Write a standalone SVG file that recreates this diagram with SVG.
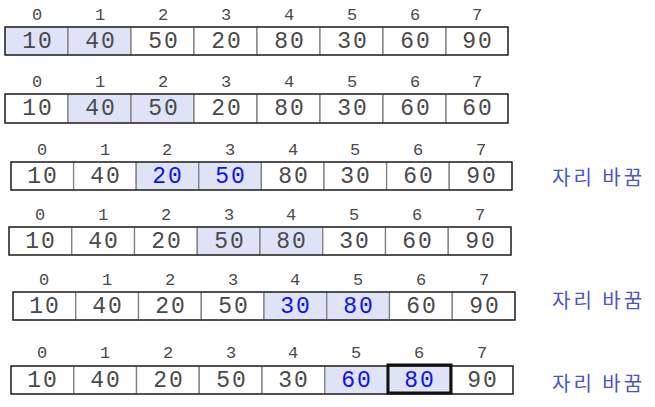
<svg xmlns="http://www.w3.org/2000/svg" width="655" height="407" viewBox="0 0 655 407">
<style>
.c{fill:#fff;stroke:#808080;stroke-width:1.3}
.h{fill:#dfe3f7;stroke:#808080;stroke-width:1.3}
.o{fill:none;stroke:#222;stroke-width:1.3}
.t{stroke:#111;stroke-width:3;fill:none}
.v{font-family:"Liberation Mono","DejaVu Sans Mono",monospace;font-size:23px;letter-spacing:2px;fill:#4a4a4a;text-anchor:middle;dominant-baseline:central}
.b{fill:#1010ee}
.i{font-family:"Liberation Mono","DejaVu Sans Mono",monospace;font-size:17px;fill:#4a4a4a;text-anchor:middle;dominant-baseline:central}
.k{font-family:"Noto Sans CJK KR",sans-serif;font-size:20px;letter-spacing:3px;fill:#4a55c8;dominant-baseline:central}
</style>
<g id="row1">
<rect class="h" x="5" y="27" width="63" height="28"/><rect class="h" x="68" y="27" width="63" height="28"/><rect class="c" x="131" y="27" width="63" height="28"/><rect class="c" x="194" y="27" width="63" height="28"/><rect class="c" x="257" y="27" width="63" height="28"/><rect class="c" x="320" y="27" width="63" height="28"/><rect class="c" x="383" y="27" width="63" height="28"/><rect class="c" x="446" y="27" width="62" height="28"/>
<rect class="o" x="5" y="27" width="503" height="28"/>
<g class="i"><text x="37" y="15">0</text><text x="100" y="15">1</text><text x="163" y="15">2</text><text x="226" y="15">3</text><text x="289" y="15">4</text><text x="352" y="15">5</text><text x="415" y="15">6</text><text x="477" y="15">7</text></g>
<g class="v"><text x="38" y="42">10</text><text x="101" y="42">40</text><text x="164" y="42">50</text><text x="227" y="42">20</text><text x="290" y="42">80</text><text x="353" y="42">30</text><text x="416" y="42">60</text><text x="478" y="42">90</text></g>
</g>
<g id="row2">
<rect class="c" x="5" y="94" width="63" height="29"/><rect class="h" x="68" y="94" width="63" height="29"/><rect class="h" x="131" y="94" width="63" height="29"/><rect class="c" x="194" y="94" width="63" height="29"/><rect class="c" x="257" y="94" width="63" height="29"/><rect class="c" x="320" y="94" width="63" height="29"/><rect class="c" x="383" y="94" width="63" height="29"/><rect class="c" x="446" y="94" width="62" height="29"/>
<rect class="o" x="5" y="94" width="503" height="29"/>
<g class="i"><text x="37" y="82">0</text><text x="100" y="82">1</text><text x="163" y="82">2</text><text x="226" y="82">3</text><text x="289" y="82">4</text><text x="352" y="82">5</text><text x="415" y="82">6</text><text x="477" y="82">7</text></g>
<g class="v"><text x="38" y="109">10</text><text x="101" y="109">40</text><text x="164" y="109">50</text><text x="227" y="109">20</text><text x="290" y="109">80</text><text x="353" y="109">30</text><text x="416" y="109">60</text><text x="478" y="109">60</text></g>
</g>
<g id="row3">
<rect class="c" x="11" y="162" width="62.6" height="28"/><rect class="c" x="73.6" y="162" width="62.6" height="28"/><rect class="h" x="136.2" y="162" width="62.6" height="28"/><rect class="h" x="198.8" y="162" width="62.6" height="28"/><rect class="c" x="261.4" y="162" width="62.6" height="28"/><rect class="c" x="324" y="162" width="62.6" height="28"/><rect class="c" x="386.6" y="162" width="62.6" height="28"/><rect class="c" x="449.2" y="162" width="62.8" height="28"/>
<rect class="o" x="11" y="162" width="501" height="28"/>
<g class="i"><text x="42" y="150">0</text><text x="105" y="150">1</text><text x="167" y="150">2</text><text x="230" y="150">3</text><text x="293" y="150">4</text><text x="355" y="150">5</text><text x="418" y="150">6</text><text x="481" y="150">7</text></g>
<g class="v"><text x="43" y="177">10</text><text x="106" y="177">40</text><text class="b" x="168" y="177">20</text><text class="b" x="231" y="177">50</text><text x="294" y="177">80</text><text x="356" y="177">30</text><text x="419" y="177">60</text><text x="482" y="177">90</text></g>
<text class="k" x="552" y="176">자리 바꿈</text>
</g>
<g id="row4">
<rect class="c" x="9" y="227" width="62.75" height="28"/><rect class="c" x="71.75" y="227" width="62.75" height="28"/><rect class="c" x="134.5" y="227" width="62.75" height="28"/><rect class="h" x="197.25" y="227" width="62.75" height="28"/><rect class="h" x="260" y="227" width="62.75" height="28"/><rect class="c" x="322.75" y="227" width="62.75" height="28"/><rect class="c" x="385.5" y="227" width="62.75" height="28"/><rect class="c" x="448.25" y="227" width="62.75" height="28"/>
<rect class="o" x="9" y="227" width="502" height="28"/>
<g class="i"><text x="40" y="215">0</text><text x="103" y="215">1</text><text x="166" y="215">2</text><text x="229" y="215">3</text><text x="291" y="215">4</text><text x="354" y="215">5</text><text x="417" y="215">6</text><text x="480" y="215">7</text></g>
<g class="v"><text x="41" y="242">10</text><text x="104" y="242">40</text><text x="167" y="242">20</text><text x="230" y="242">50</text><text x="292" y="242">80</text><text x="355" y="242">30</text><text x="418" y="242">60</text><text x="481" y="242">90</text></g>
</g>
<g id="row5">
<rect class="c" x="13" y="292" width="62.75" height="28"/><rect class="c" x="75.75" y="292" width="62.75" height="28"/><rect class="c" x="138.5" y="292" width="62.75" height="28"/><rect class="c" x="201.25" y="292" width="62.75" height="28"/><rect class="h" x="264" y="292" width="62.75" height="28"/><rect class="h" x="326.75" y="292" width="62.75" height="28"/><rect class="c" x="389.5" y="292" width="62.75" height="28"/><rect class="c" x="452.25" y="292" width="62.75" height="28"/>
<rect class="o" x="13" y="292" width="502" height="28"/>
<g class="i"><text x="44" y="280">0</text><text x="107" y="280">1</text><text x="170" y="280">2</text><text x="233" y="280">3</text><text x="295" y="280">4</text><text x="358" y="280">5</text><text x="421" y="280">6</text><text x="484" y="280">7</text></g>
<g class="v"><text x="45" y="307">10</text><text x="108" y="307">40</text><text x="171" y="307">20</text><text x="234" y="307">50</text><text class="b" x="296" y="307">30</text><text class="b" x="359" y="307">80</text><text x="422" y="307">60</text><text x="485" y="307">90</text></g>
<text class="k" x="552" y="299">자리 바꿈</text>
</g>
<g id="row6">
<rect class="c" x="11" y="366" width="62.75" height="28"/><rect class="c" x="73.75" y="366" width="62.75" height="28"/><rect class="c" x="136.5" y="366" width="62.75" height="28"/><rect class="c" x="199.25" y="366" width="62.75" height="28"/><rect class="c" x="262" y="366" width="62.75" height="28"/><rect class="h" x="324.75" y="366" width="62.75" height="28"/><rect class="h" x="387.5" y="366" width="62.75" height="28"/><rect class="c" x="450.25" y="366" width="62.75" height="28"/>
<rect class="o" x="11" y="366" width="502" height="28"/>
<rect class="t" x="388" y="365" width="63" height="28"/>
<g class="i"><text x="42" y="353">0</text><text x="105" y="353">1</text><text x="168" y="353">2</text><text x="231" y="353">3</text><text x="293" y="353">4</text><text x="356" y="353">5</text><text x="419" y="353">6</text><text x="482" y="353">7</text></g>
<g class="v"><text x="43" y="381">10</text><text x="106" y="381">40</text><text x="169" y="381">20</text><text x="232" y="381">50</text><text x="294" y="381">30</text><text class="b" x="357" y="381">60</text><text class="b" x="420" y="381">80</text><text x="483" y="381">90</text></g>
<text class="k" x="552" y="382">자리 바꿈</text>
</g>
</svg>
